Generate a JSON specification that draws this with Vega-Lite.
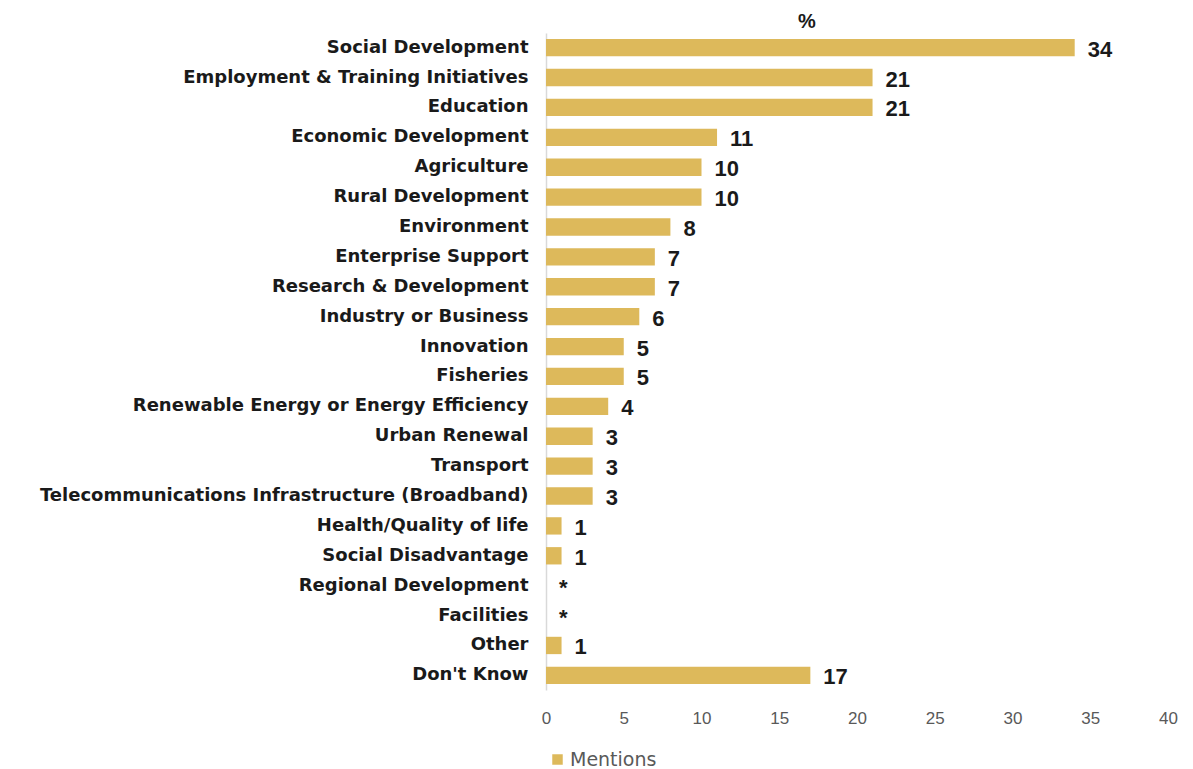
{
  "$schema": "https://vega.github.io/schema/vega-lite/v6.json",
  "width": 622,
  "height": 657,
  "autosize": {"type": "none"},
  "padding": {"left": 546, "top": 33, "right": 25, "bottom": 79},
  "background": "white",
  "title": {"text": "%", "fontSize": 20, "font": "Liberation Sans", "fontWeight": "bold", "color": "#1a1a1a", "anchor": "middle", "dx": -50, "offset": 1, "frame": "group"},
  "config": {"view": {"stroke": null}, "font": "Liberation Sans"},
  "data": {"values": [
    {"category": "Social Development", "value": 34, "label": "34", "series": "Mentions"},
    {"category": "Employment & Training Initiatives", "value": 21, "label": "21", "series": "Mentions"},
    {"category": "Education", "value": 21, "label": "21", "series": "Mentions"},
    {"category": "Economic Development", "value": 11, "label": "11", "series": "Mentions"},
    {"category": "Agriculture", "value": 10, "label": "10", "series": "Mentions"},
    {"category": "Rural Development", "value": 10, "label": "10", "series": "Mentions"},
    {"category": "Environment", "value": 8, "label": "8", "series": "Mentions"},
    {"category": "Enterprise Support", "value": 7, "label": "7", "series": "Mentions"},
    {"category": "Research & Development", "value": 7, "label": "7", "series": "Mentions"},
    {"category": "Industry or Business", "value": 6, "label": "6", "series": "Mentions"},
    {"category": "Innovation", "value": 5, "label": "5", "series": "Mentions"},
    {"category": "Fisheries", "value": 5, "label": "5", "series": "Mentions"},
    {"category": "Renewable Energy or Energy Efficiency", "value": 4, "label": "4", "series": "Mentions"},
    {"category": "Urban Renewal", "value": 3, "label": "3", "series": "Mentions"},
    {"category": "Transport", "value": 3, "label": "3", "series": "Mentions"},
    {"category": "Telecommunications Infrastructure (Broadband)", "value": 3, "label": "3", "series": "Mentions"},
    {"category": "Health/Quality of life", "value": 1, "label": "1", "series": "Mentions"},
    {"category": "Social Disadvantage", "value": 1, "label": "1", "series": "Mentions"},
    {"category": "Regional Development ", "value": 0, "label": "*", "series": "Mentions"},
    {"category": "Facilities", "value": 0, "label": "*", "series": "Mentions"},
    {"category": "Other ", "value": 1, "label": "1", "series": "Mentions"},
    {"category": "Don't Know", "value": 17, "label": "17", "series": "Mentions"}
  ]},
  "encoding": {
    "y": {"field": "category", "type": "nominal", "sort": null,
      "scale": {"paddingInner": 0.42, "paddingOuter": 0.2},
      "axis": {"title": null, "ticks": false, "domain": true, "domainColor": "#d9d9d9", "domainWidth": 1.5, "labelFont": "DejaVu Sans", "labelFontWeight": "bold", "labelFontSize": 18, "labelColor": "#1a1a1a", "labelPadding": 18, "labelLimit": 600}},
    "x": {"field": "value", "type": "quantitative",
      "scale": {"domain": [0, 40], "nice": false},
      "axis": {"title": null, "values": [0, 5, 10, 15, 20, 25, 30, 35, 40], "grid": false, "domain": false, "ticks": false, "labelFont": "Liberation Sans", "labelFontSize": 17, "labelColor": "#595959", "labelPadding": 20, "labelFlush": false}}
  },
  "layer": [
    {"mark": {"type": "bar", "color": "#DDB95B"},
     "encoding": {"color": {"field": "series", "type": "nominal", "scale": {"range": ["#DDB95B"]},
       "legend": {"title": null, "orient": "none", "legendX": 2, "legendY": 717, "symbolType": "square", "symbolSize": 110, "symbolStrokeWidth": 0, "labelFontSize": 19, "labelColor": "#595959", "labelFont": "DejaVu Sans", "labelOffset": 3}}}},
    {"mark": {"type": "text", "align": "left", "baseline": "middle", "dx": 13, "dy": 2, "font": "Liberation Sans", "fontWeight": "bold", "fontSize": 22, "color": "#1a1a1a"},
     "encoding": {"text": {"field": "label"}}}
  ]
}
